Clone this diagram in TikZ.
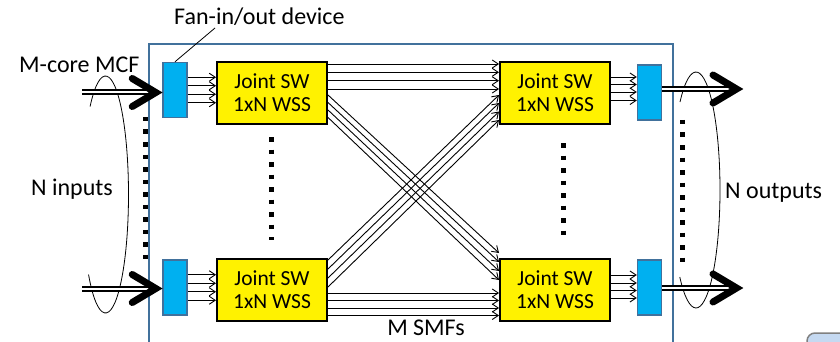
\documentclass[tikz,border=0pt]{standalone}
\usepackage{fontspec}
\setmainfont{Carlito}
\usetikzlibrary{arrows.meta}
\usetikzlibrary{calc}
\usetikzlibrary{positioning}

\definecolor{frameblue}{RGB}{65,113,156}
\definecolor{fancyan}{RGB}{0,176,240}
\definecolor{btnblue}{RGB}{197,217,241}

\begin{document}
\begin{tikzpicture}[x=1pt, y=-1pt]
		% ------- style -------
		\tikzset{%
			fanbox/.style={%
				draw=frameblue, line width=1.5pt, fill=fancyan,
				minimum width=24pt, minimum height=55pt, inner sep=0pt,
			},
			wssbox/.style={%
				draw=black, line width=2pt, fill=yellow,
				minimum width=110pt, minimum height=62pt, inner sep=0pt,
				align=center, font=\fontsize{21.5}{23}\selectfont,
			},
			lbltext/.style={inner sep=0pt, font=\fontsize{24}{28}\selectfont},
			fiber/.style={line width=0.9pt, -{Straight Barb[length=6pt, width=8pt]}},
			mcf/.style={double, double distance=2pt, line width=2pt},
			vdots/.style={line width=5pt, dash pattern=on 4.5pt off 8pt},
			bundle/.style={line width=0.8pt},
			leader/.style={line width=0.8pt},
			mcftip/.pic={%
				\draw[line width=7pt, line cap=round, line join=miter]
				(-30,-14) -- (-6.5,0) -- (-30,14);
			},
		}
		
		\useasboundingbox (0,0) rectangle (840,342);
		\clip (0,0) rectangle (840,342);
		
		% ------- frame -------
		\draw[frameblue, line width=2pt] (149,44) rectangle (673,400);
		\draw[gray, line width=1.5pt, fill=btnblue, rounded corners=8pt] (807,333) rectangle (900,390);
		
		% ------- switches -------
		\node (sw1) [wssbox] at (272,93) {Joint SW\\1xN WSS};
		\node (sw2) [wssbox, right=171pt of sw1] {Joint SW\\1xN WSS};
		\node (sw3) [wssbox, below=133pt of sw1] {Joint SW\\1xN WSS};
		\node (sw4) [wssbox, right=171pt of sw3] {Joint SW\\1xN WSS};
		
		\node (fil1) [fanbox] at (175,90) {};
		\node (fil2) [fanbox] at (175,287.5) {};
		\node (for1) [fanbox] at (649.5,92.5) {};
		\node (for2) [fanbox] at (649.5,287.5) {};
		
		% ------- fibers -------
		\foreach \dy in {-12.75, -4.25, 4.25, 12.75} {
			\draw[fiber] ($(fil1.east)+(0,\dy)$) -- ($(fil1.east -| sw1.west)+(0,\dy)$);
			\draw[fiber] ($(fil2.east)+(0,\dy)$) -- ($(fil2.east -| sw3.west)+(0,\dy)$);
		}
		\foreach \dy in {-15.5, -8, -0.5, 8}
			\draw[fiber] ($(for1.west -| sw2.east)+(0,\dy)$) -- ($(for1.west)+(0,\dy)$);
		\foreach \dy in {-12.5, -4.5, 3, 10.5}
			\draw[fiber] ($(for2.west -| sw4.east)+(0,\dy)$) -- ($(for2.west)+(0,\dy)$);
		
		% straight
		\foreach \dy in {-29, -20.7, -12.3, -4}
			\draw[fiber] ($(sw1.east)+(0,\dy)$) -- ($(sw2.west)+(0,\dy)$);
		\foreach \dy in {3, 10.5, 18, 25.5}
			\draw[fiber] ($(sw3.east)+(0,\dy)$) -- ($(sw4.west)+(0,\dy)$);
		
		% crossed
		\foreach \a/\b in {2/-37, 9.5/-28, 17/-19, 24.5/-10}
			\draw[fiber] ($(sw1.east)+(0,\a)$) -- ($(sw4.west)+(0,\b)$);
		\foreach \a/\b in {-30/2, -21/10, -12/18.5, -3/27}
			\draw[fiber] ($(sw3.east)+(0,\a)$) -- ($(sw2.west)+(0,\b)$);
		
		% ------- dots -------
		\draw[vdots] (145,117) -- (145,259.5);
		\draw[vdots] (271,137) -- (271,239.5);
		\draw[vdots] (563.5,143) -- (563.5,242.5);
		\draw[vdots] (682,120) -- (682,262);
		
		% ------- port groups -------
		\coordinate (inloop) at (105.5,194.5);
		\coordinate (outloop) at (696,190);
		\draw[bundle] (inloop) ++(-132:23 and 118.5)
			arc[start angle=-132, end angle=137.5, x radius=23, y radius=118.5];
		\draw[bundle] (outloop) ++(-131.8:24 and 118)
			arc[start angle=-131.8, end angle=132.5, x radius=24, y radius=118];
		
		% ------- multi-core fibers -------
		\coordinate (in1) at (82,92.5);
		\coordinate (in2) at (82,288.5);
		\coordinate (out1) at (743,89);
		\coordinate (out2) at (743,288);
		
		\draw[mcf, shorten >=8pt] (in1) -- (fil1.west |- in1);
		\draw[mcf, shorten >=8pt] (in2) -- (fil2.west |- in2);
		\draw[mcf, shorten >=8pt] (for1.east |- out1) -- (out1);
		\draw[mcf, shorten >=8pt] (for2.east |- out2) -- (out2);
		\pic at (fil1.west |- in1) {mcftip};
		\pic at (fil2.west |- in2) {mcftip};
		\pic at (out1) {mcftip};
		\pic at (out2) {mcftip};
		
		% ------- labels -------
		\node (fanlbl) [lbltext, anchor=base west] at (174,25) {Fan-in/out device};
		\node (mcflbl) [lbltext, anchor=base west] at (19,73) {M-core MCF};
		\node (inlbl)  [lbltext, anchor=base west] at (31,195) {N inputs};
		\node (outlbl) [lbltext, anchor=base west] at (725,198) {N outputs};
		\node (smflbl) [lbltext, anchor=base] at (426,335) {M SMFs};
		\draw[leader] (fanlbl.base west) ++(41,3) -- (fil1.north);
	\end{tikzpicture}
\end{document}
